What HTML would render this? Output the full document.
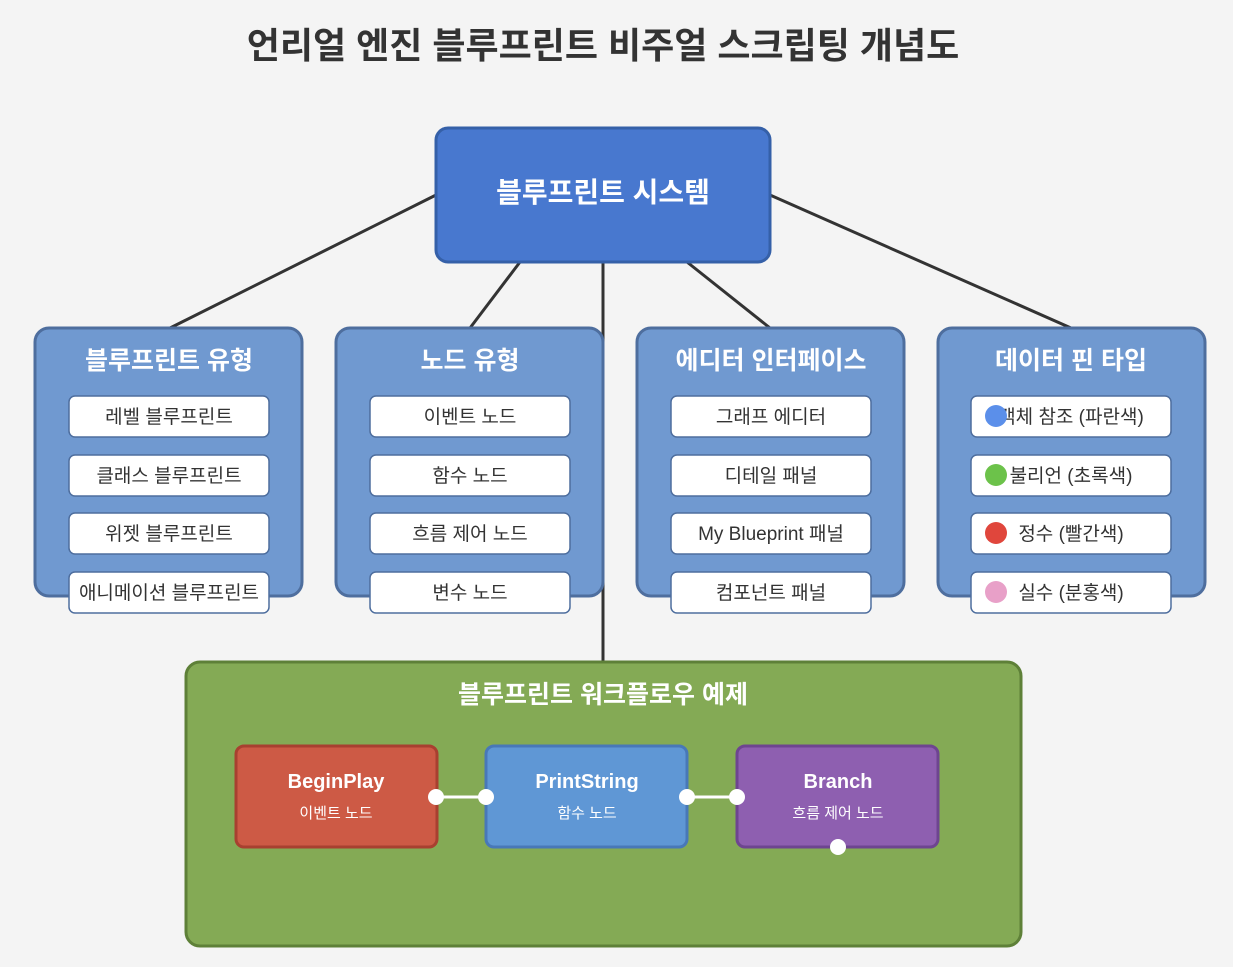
<!DOCTYPE html>
<html><head><meta charset="utf-8"><style>body{margin:0;background:#f4f4f4}svg{display:block}text{font-family:"Liberation Sans","Noto Sans CJK KR",sans-serif}</style></head><body>
<svg width="1233" height="967" xmlns="http://www.w3.org/2000/svg">
<rect width="1233" height="967" fill="#f4f4f4"/>
<text x="603" y="58" text-anchor="middle" font-size="36" font-weight="bold" fill="#333">언리얼 엔진 블루프린트 비주얼 스크립팅 개념도</text>
<g stroke="#333" stroke-width="3">
<line x1="436" y1="195" x2="170" y2="328"/><line x1="520" y1="262" x2="470" y2="328"/><line x1="603" y1="262" x2="603" y2="662"/><line x1="687" y1="262" x2="770" y2="328"/><line x1="770" y1="195" x2="1071" y2="328"/>
</g>
<rect x="436" y="128" width="334" height="134" rx="12" fill="#4878cf" stroke="#3560a8" stroke-width="3"/>
<text x="603" y="202" text-anchor="middle" font-size="28" font-weight="bold" fill="#fff">블루프린트 시스템</text>
<g stroke="#4e6e9e" stroke-width="3" fill="#7099d0">
<rect x="35" y="328" width="267" height="268" rx="14"/><rect x="336" y="328" width="267" height="268" rx="14"/><rect x="637" y="328" width="267" height="268" rx="14"/><rect x="938" y="328" width="267" height="268" rx="14"/>
</g>
<g font-size="25" font-weight="bold" fill="#fff" text-anchor="middle">
<text x="169" y="369">블루프린트 유형</text><text x="470" y="369">노드 유형</text><text x="771" y="369">에디터 인터페이스</text><text x="1071" y="369">데이터 핀 타입</text>
</g>
<g fill="#fff" stroke="#4e6e9e" stroke-width="1.5">
<rect x="69" y="396" width="200" height="41" rx="6"/><rect x="69" y="455" width="200" height="41" rx="6"/><rect x="69" y="513" width="200" height="41" rx="6"/><rect x="69" y="572" width="200" height="41" rx="6"/>
<rect x="370" y="396" width="200" height="41" rx="6"/><rect x="370" y="455" width="200" height="41" rx="6"/><rect x="370" y="513" width="200" height="41" rx="6"/><rect x="370" y="572" width="200" height="41" rx="6"/>
<rect x="671" y="396" width="200" height="41" rx="6"/><rect x="671" y="455" width="200" height="41" rx="6"/><rect x="671" y="513" width="200" height="41" rx="6"/><rect x="671" y="572" width="200" height="41" rx="6"/>
<rect x="971" y="396" width="200" height="41" rx="6"/><rect x="971" y="455" width="200" height="41" rx="6"/><rect x="971" y="513" width="200" height="41" rx="6"/><rect x="971" y="572" width="200" height="41" rx="6"/>
</g>
<g font-size="19" fill="#333" text-anchor="middle">
<text x="169" y="423">레벨 블루프린트</text><text x="169" y="482">클래스 블루프린트</text><text x="169" y="540">위젯 블루프린트</text><text x="169" y="599">애니메이션 블루프린트</text>
<text x="470" y="423">이벤트 노드</text><text x="470" y="482">함수 노드</text><text x="470" y="540">흐름 제어 노드</text><text x="470" y="599">변수 노드</text>
<text x="771" y="423">그래프 에디터</text><text x="771" y="482">디테일 패널</text><text x="771" y="540">My Blueprint 패널</text><text x="771" y="599">컴포넌트 패널</text>
<text x="1071" y="423">객체 참조 (파란색)</text><text x="1071" y="482">불리언 (초록색)</text><text x="1071" y="540">정수 (빨간색)</text><text x="1071" y="599">실수 (분홍색)</text>
</g>
<circle cx="996" cy="416" r="11" fill="#5b8fea"/><circle cx="996" cy="475" r="11" fill="#6cc24a"/><circle cx="996" cy="533" r="11" fill="#e0463c"/><circle cx="996" cy="592" r="11" fill="#e8a0c8"/>
<rect x="186" y="662" width="835" height="284" rx="14" fill="#84aa55" stroke="#5e8038" stroke-width="3"/>
<text x="603" y="703" text-anchor="middle" font-size="25" font-weight="bold" fill="#fff">블루프린트 워크플로우 예제</text>
<rect x="236" y="746" width="201" height="101" rx="8" fill="#cd5a45" stroke="#a84030" stroke-width="3"/>
<rect x="486" y="746" width="201" height="101" rx="8" fill="#5f97d5" stroke="#4878b8" stroke-width="3"/>
<rect x="737" y="746" width="201" height="101" rx="8" fill="#8e5fb0" stroke="#6e4590" stroke-width="3"/>
<g fill="#fff" text-anchor="middle">
<text x="336" y="788" font-size="20" font-weight="bold">BeginPlay</text><text x="336" y="818" font-size="15">이벤트 노드</text>
<text x="587" y="788" font-size="20" font-weight="bold">PrintString</text><text x="587" y="818" font-size="15">함수 노드</text>
<text x="838" y="788" font-size="20" font-weight="bold">Branch</text><text x="838" y="818" font-size="15">흐름 제어 노드</text>
</g>
<g stroke="#fff" stroke-width="3"><line x1="436" y1="797" x2="486" y2="797"/><line x1="687" y1="797" x2="737" y2="797"/></g>
<g fill="#fff"><circle cx="436" cy="797" r="8"/><circle cx="486" cy="797" r="8"/><circle cx="687" cy="797" r="8"/><circle cx="737" cy="797" r="8"/><circle cx="838" cy="847" r="8"/></g>
</svg>
</body></html>
